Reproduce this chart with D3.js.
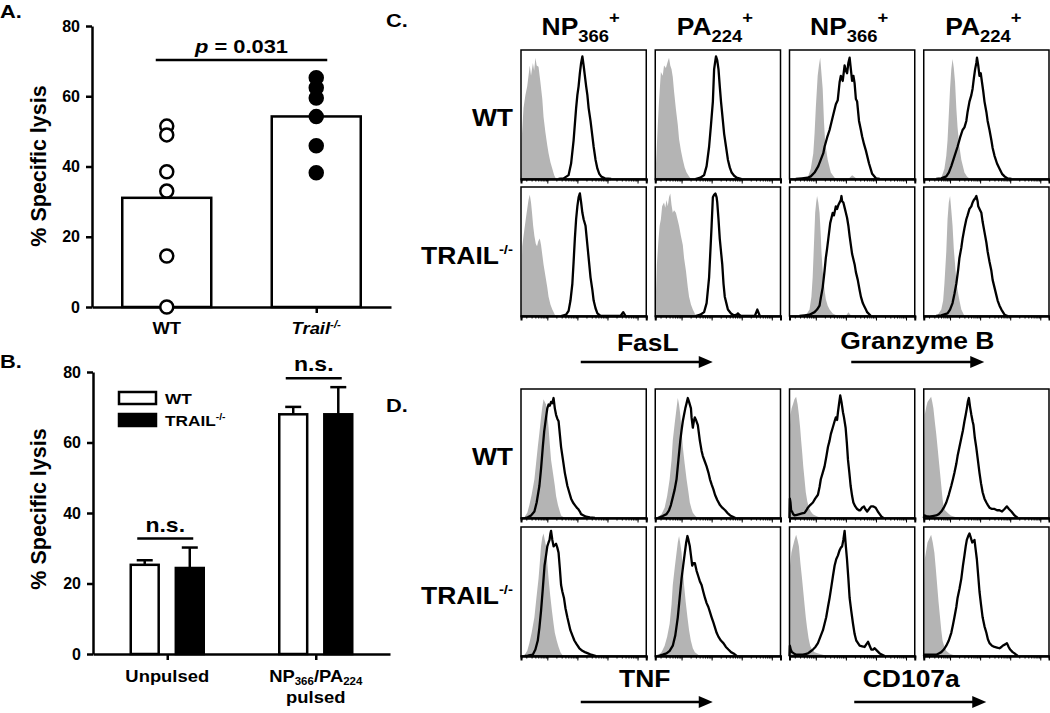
<!DOCTYPE html>
<html>
<head>
<meta charset="utf-8">
<script src="https://cdn.jsdelivr.net/npm/d3@7"></script>
<style>
body { margin: 0; background: #fff; }
svg { display: block; font-family: "Liberation Sans", Arial, sans-serif; font-weight: bold; }
</style>
</head>
<body>
<script>
// ---- Data ---------------------------------------------------------------
// panel A: % specific lysis, one value per mouse
var lysisCats = ["WT", "Trail"];
var lysisWT = [51.5, 49, 38.5, 33, 14.5, 0];
var lysisTrail = [65.3, 62.4, 59.5, 54.2, 45.9, 38.2];
var yTicks = [0, 20, 40, 60, 80];

// panel B: mean + SEM
var pulseGroups = ["Unpulsed", "Pulsed"];
var pulseSeries = ["WT", "TRAIL"];
var pulseMeanWT = [25.3, 68.0];
var pulseErrWT = [1.3, 2.1];
var pulseMeanTrail = [24.4, 68.0];
var pulseErrTrail = [5.8, 7.7];

// panels C/D: flow histograms, [channel 0-100, % of max]
var fasl_np_wt_ctrl = [[0,0],[0.5,30],[2,55],[3.5,65],[5,72],[7,88],[8,80],[9.5,90],[10.5,84],[11.5,94],[12.5,88],[14,87],[15.5,75],[17,62],[18,48],[19.5,36],[21,26],[22,20],[23.5,13],[25,8],[26.5,3],[28,0]];
var fasl_np_wt = [[30,0],[34,0.5],[38,3],[40,12],[42,30],[44,55],[45,65],[46,72],[47,82],[48,90],[49,95],[50,88],[51,80],[52,72],[53,65],[54,55],[55.5,45],[57,33],[58,25],[59.5,15],[61,8],[62.5,4],[64,2],[67,0.5],[72,0]];
var fasl_pa_wt_ctrl = [[0,0],[1,20],[2,41],[3,60],[4.5,83],[6,80],[7,88],[8.5,86],[10,91],[11,94],[12,88],[13,85],[14,79],[15,68],[16.5,54],[18,42],[19,31],[20.5,22],[22,15],[23.5,9],[25,5],[27,2],[28.5,0]];
var fasl_pa_wt = [[32,0],[36,1],[39,3],[41,10],[43,25],[44.5,42],[46,60],[47,85],[48,92],[48.5,95],[49.5,92],[50.5,85],[51.5,72],[52.5,60],[54,45],[55,35],[56.5,25],[58,15],[59.5,9],[61,5],[63,2.5],[65,1],[69,0]];
var grz_np_wt_ctrl = [[12,0],[14.5,1],[17,8],[19,20],[20,35],[21,55],[22.5,80],[23.5,88],[24.5,94],[25.5,82],[26.5,70],[27.5,45],[28.5,28],[30.5,15],[33,5],[36,1],[38.5,0],[47,0],[50,3],[54,0]];
var grz_np_wt = [[5,0],[10,0.5],[14.5,1],[17,2],[20,5],[23,10],[25,15],[27,20],[28,25],[30,32],[32,38],[34.5,48],[37,58],[38.5,61],[40,75],[41,80],[42.5,76],[44,88],[45,84],[46,82],[47,90],[48,94],[49,85],[50,76],[51,80],[52,74],[53,62],[54,60],[55.5,45],[57,38],[58,33],[59.5,27],[61,22],[63.5,12],[66,4],[69,0.5],[72,0]];
var grz_pa_wt_ctrl = [[12,0],[14,1],[16.5,8],[18,18],[19,30],[20,50],[21,70],[22,85],[23,93],[24,86],[25,75],[26,55],[27,40],[28.5,25],[30,15],[32.5,5],[34.5,2],[37,0]];
var grz_pa_wt = [[10,0],[14,0.5],[18,2],[20,5],[22,10],[24,16],[27,25],[29,32],[31,38],[32.5,40],[34,45],[35,52],[36.5,60],[38,65],[39,70],[40,78],[41,85],[42,90],[42.5,94],[43.5,88],[44.5,80],[45.5,82],[46.5,75],[47.5,68],[48.5,60],[50,52],[51,45],[52.5,38],[54,30],[55,24],[56.5,18],[58.5,12],[60.5,8],[62.5,4],[64.5,2],[67,0.5],[70,0]];
var fasl_np_tr_ctrl = [[0,0],[0.5,35],[1,54],[2,62],[2.7,67],[3.8,75],[4.8,82],[6,90],[7,94],[8,88],[8.8,80],[9.7,70],[10.7,62],[11.8,56],[12.8,54],[13.8,58],[15,60],[16,55],[16.8,49],[18,40],[19.5,31],[21,22],[22,15],[23.5,9],[25,5],[27.5,0]];
var fasl_np_tr = [[32,0],[34,0.5],[36,1],[38,4],[39.5,12],[41,25],[42,42],[43,60],[44,75],[45,85],[46,92],[47,95],[48,88],[49,80],[50,75],[51.5,70],[52.5,60],[53.5,50],[54.5,40],[55.5,30],[57,20],[58,12],[59.5,6],[61,2],[63.5,0],[79.5,0],[81.6,3],[83.5,0]];
var fasl_pa_tr_ctrl = [[0,0],[0.8,25],[1.3,40],[2.5,58],[3.5,70],[4.5,75],[5.5,85],[7,88],[8,84],[9,90],[10,85],[11,92],[12,95],[13,86],[14,80],[15,82],[16.5,80],[18,74],[19,70],[20.5,62],[22,55],[23,45],[24.5,35],[26,22],[27,15],[28.5,9],[30,5],[32.5,0]];
var fasl_pa_tr = [[32,0],[36,1],[39,3],[41,10],[43,30],[44,50],[45,70],[46,92],[47,94],[48,95],[49,92],[49.5,88],[50.5,75],[51.5,60],[52.5,50],[53.5,40],[54.5,25],[55.5,15],[57,9],[58,5],[60.5,2],[63,0.5],[65,1],[66,2],[67,1],[68.5,0],[79.5,0],[81.5,5],[83.5,0]];
var grz_np_tr_ctrl = [[10,0],[12,0.5],[14,2],[16,5],[17.5,15],[18.5,30],[19.5,55],[20.5,80],[21.3,88],[22,93],[23,88],[24,80],[25,62],[25.5,50],[26.5,35],[28,20],[29,13],[30.5,8],[32,5],[34.5,2],[38.5,0],[45,0],[47,3],[49.5,0]];
var grz_np_tr = [[8,0],[12,0.5],[16,1],[20,3],[22,5],[24,8],[25,14],[26.5,22],[28,35],[29,45],[30,52],[31,60],[32,68],[32.5,72],[33.5,76],[34.5,80],[35.5,78],[37,85],[38,83],[39,86],[40,88],[41,90],[41.5,93],[42,89],[43,88],[44,84],[45,80],[46,76],[47,70],[48,62],[49,55],[50,48],[51,44],[52,40],[53,34],[54.5,28],[56,20],[57,15],[58.5,10],[59.5,8],[61,5],[62,3],[65,0]];
var grz_pa_tr_ctrl = [[9,0],[11,0.5],[14,5],[15.5,12],[16.5,25],[18,50],[19,75],[20,88],[21,93],[22,82],[23,70],[24,52],[25,40],[26,28],[27,20],[28.5,12],[30,5],[32.5,0]];
var grz_pa_tr = [[10,0],[14,0.5],[19,2],[21,5],[23,10],[24.5,17],[26,25],[27.5,36],[28.5,45],[30,53],[31,60],[32.5,68],[34,75],[35,78],[36.5,83],[38,85],[39,88],[40,90],[41,91],[42,93],[43,89],[43.5,85],[45,82],[46,80],[47,73],[48.5,65],[50,57],[51,50],[52.5,42],[54,35],[55,28],[56.5,22],[58,16],[59,12],[60.5,8],[62,5],[64.5,1],[67,0]];

var tnf_np_wt_ctrl = [[0,0],[2.7,0.5],[5,4],[6.7,10],[8.5,18],[10.7,30],[12,42],[13.4,55],[14.7,66],[16,78],[17,86],[18,92],[19,90],[20,88],[21,80],[22,70],[23,57],[24,45],[25.5,35],[27,25],[28,17],[29.5,10],[31,5],[32,2],[35,0]];
var tnf_np_wt = [[3,0],[5.4,0.5],[8,2],[10.7,5],[12.5,12],[14.7,25],[16,38],[17.4,55],[18.5,67],[20,78],[21,85],[22,88],[23,87],[24,90],[25,89],[26,93],[27,85],[28,80],[29,77],[30,75],[31,65],[32,55],[33.5,45],[35,35],[36,30],[37,25],[38.5,20],[40,15],[41.5,12],[43,10],[44.5,8],[45.6,7],[47,5],[48,3],[50,2],[52,1],[55,0.5],[59,0]];
var tnf_pa_wt_ctrl = [[0,0],[2,0.5],[5,3],[7.5,8],[9.5,17],[11.5,30],[13,45],[14,60],[15.5,73],[17,85],[18,93],[19,88],[20,80],[21,68],[22,55],[23.5,42],[25,30],[26.5,20],[27.6,12],[29,7],[30,4],[32,1.5],[34,0]];
var tnf_pa_wt = [[2,0],[3.5,0.5],[6,1.5],[9,3],[11,6],[12.5,10],[14,16],[15.5,22],[17,30],[18.5,45],[20,60],[21,68],[22,75],[23,80],[24,85],[25,89],[26,93],[27,90],[28.5,85],[29,78],[30,70],[30.8,75],[31.6,78],[32.5,76],[34,72],[35.6,60],[37,52],[38,48],[39.5,44],[41,40],[42.5,35],[43.7,30],[45,26],[46.5,22],[47.7,18],[49.5,14],[51.7,10],[53.5,8],[55.8,6],[57.5,4],[59.8,2],[62,1],[64,0]];
var cd107_np_wt_ctrl = [[0,0],[0.3,70],[0.8,80],[1.7,85],[2.7,88],[4,92],[5.3,94],[6.5,88],[7.5,80],[8.5,70],[9.3,60],[10.2,50],[11,40],[12,30],[13,20],[14.2,13],[15.5,8],[17,5],[18.7,3],[20.5,2],[22.7,1],[26.7,0]];
var cd107_np_wt = [[0,0],[0.3,15],[0.8,12],[1.3,6],[2,5],[3,3],[4,2],[6,2.5],[8,3],[10,3.5],[12,4],[13.5,6],[14.7,8],[16.5,10],[18.7,12],[20.5,15],[22.7,18],[24,24],[25,30],[26.5,35],[28,40],[29.5,48],[30.7,55],[32,60],[33,65],[34.5,70],[36,75],[37,78],[38,76],[38.7,82],[39.5,88],[40.5,95],[41.5,90],[42.7,82],[43.5,78],[44.8,70],[45.8,58],[46.7,45],[47.8,35],[48.8,25],[50,17],[51,12],[52.5,9],[54,7],[55.5,6],[56.5,6],[58,8],[59.5,9],[60.5,7],[62,5],[63.5,7],[65,9],[67,9],[68.8,8],[70.5,5],[72,3],[73.5,1],[75,0]];
var cd107_pa_wt_ctrl = [[0,0],[0.4,60],[0.8,80],[2,86],[3,90],[4.5,92],[5.9,94],[6.8,90],[7.7,85],[8.8,75],[10,65],[11,55],[12,45],[13,35],[14,25],[15,15],[15.7,10],[17,6],[19,4],[21.5,2],[24.5,1],[28.5,0]];
var cd107_pa_wt = [[0,0],[0.5,2],[2,1.5],[4.5,1],[7,1.5],[10,2],[12,3],[14,5],[16,8],[18,12],[20,18],[22,25],[23.3,30],[24.5,35],[26,42],[27,48],[28.5,55],[30,62],[31.3,68],[32.5,75],[33.5,80],[34.4,85],[35.2,90],[36,93],[37,86],[38,80],[39,75],[39.7,72],[40.8,62],[41.9,55],[43.2,45],[44.5,35],[45.7,27],[47,20],[48.5,15],[50,12],[51.2,10],[52.5,8],[54.5,7],[56.5,7],[58.5,6],[60.5,6],[62.5,5],[64.5,7],[66.4,9],[68,7],[70,5],[72.5,2],[75,0]];
var tnf_np_tr_ctrl = [[0,0],[2.7,0.5],[5,4],[6.7,10],[8.5,18],[10.7,30],[12.3,45],[14,60],[15,72],[16,85],[17,92],[18,95],[19,90],[20,85],[21,72],[22,60],[23.3,47],[24.7,35],[26,25],[27,18],[28.5,12],[30,7],[31.5,3],[33.5,0]];
var tnf_np_tr = [[3,0],[5.4,0.2],[9.4,1],[11.5,5],[13.4,12],[14.7,22],[16,35],[17.4,52],[18.8,70],[20,78],[21,85],[22,88],[22.8,90],[23.5,95],[24,97],[25,90],[26,85],[27,86],[28,87],[29,84],[30,80],[31,68],[32,55],[33,50],[34.3,45],[35.5,37],[37,30],[38.2,25],[39.4,20],[41,16],[42.6,12],[44.5,9],[46.6,6],[49,4],[51,3],[53.5,2],[56,1],[60,0]];
var tnf_pa_tr_ctrl = [[0,0],[2,0.5],[5,3],[7.5,8],[9.5,15],[11.5,25],[13,40],[14,55],[15.5,68],[17,80],[18,88],[19,93],[20,87],[21,80],[22,68],[23,55],[24.3,42],[25.7,30],[27,20],[28.4,12],[30,6],[31.6,3],[35.6,0]];
var tnf_pa_tr = [[2,0],[3.5,0.3],[6,1],[9,2],[11.5,4],[14,8],[16,16],[18,30],[19.5,45],[21,60],[22.3,70],[23.6,80],[24.7,88],[25.7,93],[26.5,90],[27.6,85],[28.5,78],[29.5,70],[30.5,72],[31.6,72],[33,66],[34.3,62],[35.6,58],[37,55],[38.3,50],[39.7,45],[41,41],[42.4,38],[43.7,34],[45,30],[46.4,26],[47.7,22],[49,18],[50.4,15],[52.4,12],[54.4,10],[56.4,7],[58.4,5],[60.5,3],[62.5,2],[65,0]];
var cd107_np_tr_ctrl = [[0,0],[0.3,55],[0.5,70],[1.5,80],[2.7,85],[4,90],[5.3,94],[6.4,90],[7.5,85],[8.7,72],[10,60],[11,50],[12,40],[13,30],[14,22],[15.2,14],[16.5,8],[18,5],[20,3],[23,2],[26.7,1],[30.7,0]];
var cd107_np_tr = [[0,0],[0.3,8],[1,5],[2,3],[3.5,2],[5.3,1],[8,1],[10.7,1],[12.7,1.5],[14.7,2],[16.7,3.5],[18.7,5],[20.7,7],[22.7,10],[24.7,15],[26.7,20],[28,25],[29.3,30],[30.7,38],[32,45],[33.3,53],[34.7,62],[36,70],[37.3,75],[38.7,78],[40,82],[41,84],[42,85],[43,90],[44,97],[45,85],[45.9,75],[47,60],[48,45],[49.3,35],[50.7,25],[52,17],[53.3,12],[54.7,10],[56,8],[58,7.5],[60,7],[61.3,9],[62.7,11],[64,8],[65.3,5],[66.7,5],[68,6],[70,4],[72,2],[74,1],[76,0]];
var cd107_pa_tr_ctrl = [[0,0],[0.4,55],[0.8,75],[2,82],[3,88],[4.5,91],[5.9,94],[7.2,88],[8.5,80],[9.6,68],[10.7,55],[11.8,42],[13,30],[14,20],[15,12],[16.5,7],[17.9,4],[20.5,2],[23,1],[28.5,0]];
var cd107_pa_tr = [[0,0],[0.5,1],[4.5,1],[10,1],[12,2],[14,3],[16,5],[18,8],[20,12],[22,18],[23.3,24],[24.5,30],[26,38],[27,45],[28.5,52],[30,60],[31.3,70],[32.5,78],[33.5,85],[34.4,90],[35.5,93],[36.5,95],[37.5,92],[38.7,88],[39.6,89],[40.5,90],[41.5,82],[42.4,75],[43.5,62],[44.5,50],[45.7,40],[47,30],[48.5,23],[50,18],[51.2,13],[52.5,10],[54.5,8],[56.5,7],[58.5,6.5],[60.5,6],[62,7],[63,8],[65,9],[66.4,10],[67.8,7],[69,5],[71,3],[72.5,2],[75,0]];

var histCols = ["NP", "PA", "NP", "PA"];
var histRows = ["WT", "TRAIL"];
var logMajor = [1e2, 1e3, 1e4, 1e5];

// ---- Helpers --------------------------------------------------------------
var SX = 1.15; // the original type is a little wide
var svg = d3.select("body").append("svg").attr("width", 1050).attr("height", 713);

function label(x, y, size, anchor) {
  return svg.append("text")
    .attr("transform", "translate(" + x + "," + y + ") scale(" + SX + ",1)")
    .attr("text-anchor", anchor || "middle")
    .style("font-size", size + "px");
}
function styleAxis(g) {
  g.attr("font-family", null).attr("font-size", null);
  g.selectAll("path, line").attr("stroke", "#000").attr("stroke-width", 2.5);
  g.selectAll("text").style("font-size", "16px").style("font-weight", "bold");
}
function arrow(x1, x2, y) {
  svg.append("line").attr("x1", x1).attr("x2", x2 - 10).attr("y1", y).attr("y2", y)
     .attr("stroke", "#000").attr("stroke-width", 2.4);
  svg.append("path").attr("d", "M" + (x2 - 14) + "," + (y - 6) + "L" + x2 + "," + y + "L" + (x2 - 14) + "," + (y + 6) + "Z");
}

// ---- Panel A ------------------------------------------------------------
var yA = d3.scaleLinear().domain([0, 80]).range([307, 26]);
var xA = d3.scalePoint().domain(lysisCats).range([92, 391]).padding(0.5);
var lysisData = [lysisWT, lysisTrail];

label(0, 18, 19, "start").text("A.");

lysisData.forEach(function(vals, i) {
  var cx = xA(lysisCats[i]);
  svg.append("rect")
     .attr("x", cx - 44.5).attr("width", 89)
     .attr("y", yA(d3.mean(vals))).attr("height", yA(0) - yA(d3.mean(vals)))
     .attr("fill", "#fff").attr("stroke", "#000").attr("stroke-width", 2.5);
});

svg.append("g").attr("transform", "translate(92,0)")
   .call(d3.axisLeft(yA).tickValues(yTicks).tickSize(6).tickSizeOuter(0).tickPadding(6))
   .call(styleAxis);
svg.append("g").attr("transform", "translate(0,307)")
   .call(d3.axisBottom(xA).tickSize(6).tickSizeOuter(0).tickFormat(""))
   .call(styleAxis);

lysisData.forEach(function(vals, i) {
  svg.selectAll(null).data(vals).enter().append("circle")
     .attr("cx", xA(lysisCats[i])).attr("cy", function(d) { return yA(d); })
     .attr("r", 6.5)
     .attr("fill", i === 0 ? "#fff" : "#000")
     .attr("stroke", "#000").attr("stroke-width", 2.5);
});

label(xA("WT"), 334, 16).text("WT");
label(xA("Trail"), 334, 16).call(function(t) {
  t.append("tspan").style("font-style", "italic").text("Trail");
  t.append("tspan").attr("dy", -6).style("font-size", "10px").style("font-style", "italic").text("-/-");
});

// significance bracket
svg.append("line").attr("x1", xA("WT") - 11).attr("x2", xA("Trail") + 11)
   .attr("y1", 60).attr("y2", 60).attr("stroke", "#000").attr("stroke-width", 2.5);
label((xA("WT") + xA("Trail")) / 2, 53, 19).call(function(t) {
  t.append("tspan").style("font-style", "italic").text("p");
  t.append("tspan").text(" = 0.031");
});

svg.append("text").attr("transform", "translate(46,166) rotate(-90)")
   .attr("text-anchor", "middle").style("font-size", "21.5px").text("% Specific lysis");

// ---- Panel B ------------------------------------------------------------
var yB = d3.scaleLinear().domain([0, 80]).range([654, 372]);
var xB = d3.scalePoint().domain(pulseGroups).range([93, 390]).padding(0.5);
var xBin = d3.scaleBand().domain(pulseSeries).range([-36.5, 36.5]).paddingInner(0.38);
var pulseMeans = [pulseMeanWT, pulseMeanTrail];
var pulseErrs = [pulseErrWT, pulseErrTrail];

label(0, 368, 19, "start").text("B.");

pulseGroups.forEach(function(grp, gi) {
  var gx = xB(grp);
  pulseSeries.forEach(function(s, si) {
    var m = pulseMeans[si][gi], e = pulseErrs[si][gi];
    var bx = gx + xBin(s), bw = xBin.bandwidth(), mid = bx + bw / 2;
    svg.append("line").attr("x1", mid).attr("x2", mid)
       .attr("y1", yB(m)).attr("y2", yB(m + e)).attr("stroke", "#000").attr("stroke-width", 2.5);
    svg.append("line").attr("x1", mid - 8).attr("x2", mid + 8)
       .attr("y1", yB(m + e)).attr("y2", yB(m + e)).attr("stroke", "#000").attr("stroke-width", 2.5);
    svg.append("rect").attr("x", bx).attr("width", bw)
       .attr("y", yB(m)).attr("height", yB(0) - yB(m))
       .attr("fill", si === 0 ? "#fff" : "#000").attr("stroke", "#000").attr("stroke-width", 2.5);
  });
  // n.s. bracket above the taller error bar
  var top = d3.max([0, 1], function(si) { return pulseMeans[si][gi] + pulseErrs[si][gi]; });
  var by = yB(top) - 9;
  svg.append("line").attr("x1", gx - 30).attr("x2", gx + 26).attr("y1", by).attr("y2", by)
     .attr("stroke", "#000").attr("stroke-width", 2.5);
  label(gx - 2, by - 7, 20).text("n.s.");
});

svg.append("g").attr("transform", "translate(93,0)")
   .call(d3.axisLeft(yB).tickValues(yTicks).tickSize(6).tickSizeOuter(0).tickPadding(6))
   .call(styleAxis);
svg.append("g").attr("transform", "translate(0,654)")
   .call(d3.axisBottom(xB).tickSize(6).tickSizeOuter(0).tickFormat(""))
   .call(styleAxis);

// legend
pulseSeries.forEach(function(s, si) {
  var ly = 392 + si * 22;
  svg.append("rect").attr("x", 119).attr("y", ly).attr("width", 37).attr("height", 12)
     .attr("fill", si === 0 ? "#fff" : "#000").attr("stroke", "#000").attr("stroke-width", 2.5);
  var t = label(165, ly + 12, 15, "start");
  t.append("tspan").text(s);
  if (si === 1) t.append("tspan").attr("dy", -6).style("font-size", "9px").text("-/-");
});

label(xB("Unpulsed"), 682, 16).text("Unpulsed");
label(xB("Pulsed"), 682, 16).call(function(t) {
  t.append("tspan").text("NP");
  t.append("tspan").attr("dy", 3).style("font-size", "10px").text("366");
  t.append("tspan").attr("dy", -3).text("/PA");
  t.append("tspan").attr("dy", 3).style("font-size", "10px").text("224");
});
label(xB("Pulsed"), 703, 16).text("pulsed");

svg.append("text").attr("transform", "translate(46,509) rotate(-90)")
   .attr("text-anchor", "middle").style("font-size", "21.5px").text("% Specific lysis");

// ---- Panels C and D: histograms -------------------------------------------
var colX = d3.scaleBand().domain([0, 1, 2, 3]).range([521, 1049]).paddingInner(0.067);
var boxW = colX.bandwidth();
var boxH = 129;
var hx = d3.scaleLinear().domain([0, 100]).range([0, boxW]);
var hy = d3.scaleLinear().domain([0, 100]).range([boxH, 0]);
var xLog = d3.scaleLog().domain([Math.pow(10, 1.125), Math.pow(10, 5.29)]).range([0, boxW]);
var area = d3.area().x(function(d) { return hx(d[0]); }).y0(boxH).y1(function(d) { return hy(d[1]); });
var line = d3.line().x(function(d) { return hx(d[0]); }).y(function(d) { return hy(d[1]); });

var histC = [
  [[fasl_np_wt_ctrl, fasl_np_wt], [fasl_pa_wt_ctrl, fasl_pa_wt], [grz_np_wt_ctrl, grz_np_wt], [grz_pa_wt_ctrl, grz_pa_wt]],
  [[fasl_np_tr_ctrl, fasl_np_tr], [fasl_pa_tr_ctrl, fasl_pa_tr], [grz_np_tr_ctrl, grz_np_tr], [grz_pa_tr_ctrl, grz_pa_tr]]
];
var histD = [
  [[tnf_np_wt_ctrl, tnf_np_wt], [tnf_pa_wt_ctrl, tnf_pa_wt], [cd107_np_wt_ctrl, cd107_np_wt], [cd107_pa_wt_ctrl, cd107_pa_wt]],
  [[tnf_np_tr_ctrl, tnf_np_tr], [tnf_pa_tr_ctrl, tnf_pa_tr], [cd107_np_tr_ctrl, cd107_np_tr], [cd107_pa_tr_ctrl, cd107_pa_tr]]
];

function drawHists(grid, rowTops) {
  grid.forEach(function(row, ri) {
    row.forEach(function(pair, ci) {
      var g = svg.append("g").attr("transform", "translate(" + colX(ci) + "," + rowTops[ri] + ")");
      g.append("path").datum(pair[0]).attr("d", area).attr("fill", "#b4b4b4");
      g.append("path").datum(pair[1]).attr("d", line)
       .attr("fill", "none").attr("stroke", "#000").attr("stroke-width", 2.3).attr("stroke-linejoin", "round");
      g.append("rect").attr("width", boxW).attr("height", boxH)
       .attr("fill", "none").attr("stroke", "#000").attr("stroke-width", 1.5);
      // log-scale ticks under each box
      var minor = g.append("g").attr("transform", "translate(0," + boxH + ")")
        .call(d3.axisBottom(xLog).tickValues(xLog.ticks()).tickSize(2.5).tickFormat(""));
      var major = g.append("g").attr("transform", "translate(0," + boxH + ")")
        .call(d3.axisBottom(xLog).tickValues(logMajor).tickSize(4.5).tickFormat(""));
      [minor, major].forEach(function(a) {
        a.select(".domain").attr("stroke-width", 2);
        a.selectAll("line").attr("stroke-width", 1);
      });
    });
    label(513, rowTops[ri] + boxH / 2 + (ri === 0 ? 11 : 12), 23, "end").call(function(t) {
      t.append("tspan").text(histRows[ri]);
      if (ri === 1) t.append("tspan").attr("dy", -10).style("font-size", "13px").text("-/-");
    });
  });
}

label(386, 27, 19, "start").text("C.");
label(386, 412, 19, "start").text("D.");

// column headers
histCols.forEach(function(c, ci) {
  label(colX(ci) + boxW / 2 - 3, 35, 23).call(function(t) {
    t.append("tspan").text(c);
    t.append("tspan").attr("dy", 7).style("font-size", "16px").text(c === "NP" ? "366" : "224");
    t.append("tspan").attr("dy", -19).style("font-size", "16px").text("+");
  });
});

drawHists(histC, [50, 187]);
drawHists(histD, [389, 527]);

// marker labels with arrows
var pairMid1 = (colX(0) + colX(1) + boxW) / 2, pairMid2 = (colX(2) + colX(3) + boxW) / 2;
label(pairMid1 - 3, 351, 23).text("FasL");
label(pairMid2 - 2, 349, 23).text("Granzyme B");
arrow(pairMid1 - 70, pairMid1 + 62, 362);
arrow(pairMid2 - 68, pairMid2 + 65, 362);
label(pairMid1 - 6, 687, 23).text("TNF");
label(pairMid2 - 8, 687, 23).text("CD107a");
arrow(pairMid1 - 70, pairMid1 + 62, 702);
arrow(pairMid2 - 65, pairMid2 + 67, 702);
</script>
</body>
</html>
